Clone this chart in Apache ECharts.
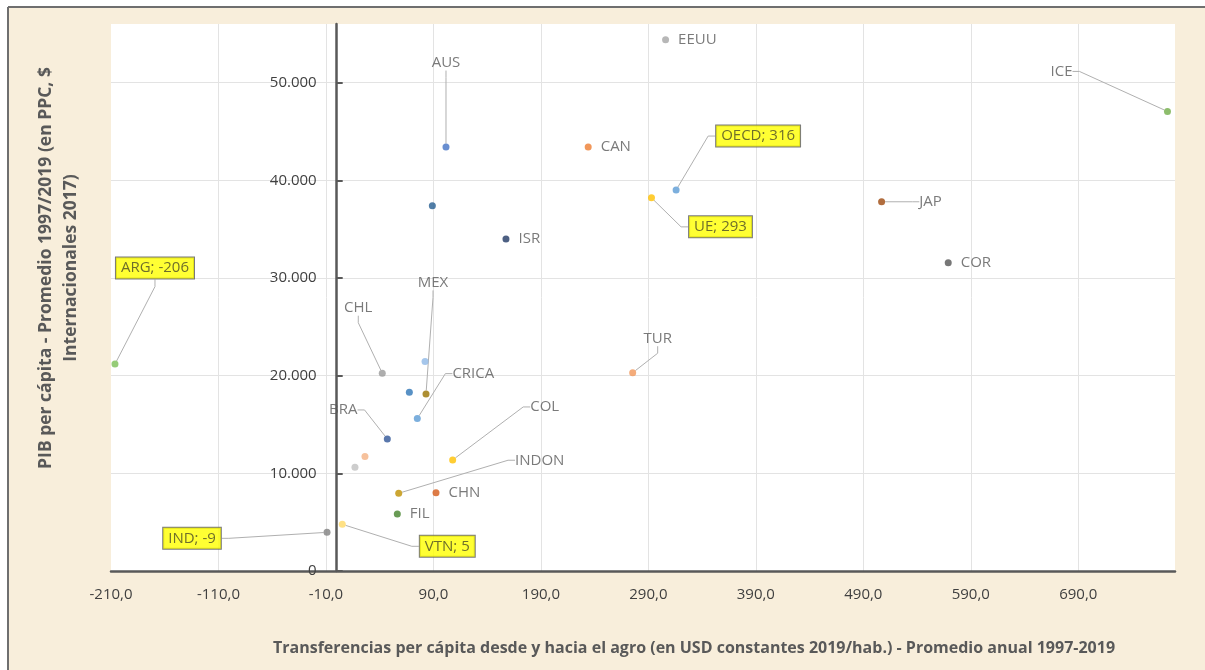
<!DOCTYPE html>
<html>
<head>
<meta charset="utf-8">
<script src="https://cdn.jsdelivr.net/npm/echarts@6/dist/echarts.min.js"></script>
<style>
html,body{margin:0;padding:0;background:#ffffff;}
#chart{width:1205px;height:670px;}
</style>
</head>
<body>
<div id="chart"></div>
<script>
// ---- Data ----
const countries = ['EEUU','ICE','CAN','OECD','UE','JAP','COR','AUS','P1','ISR','TUR','ARG','IND','VTN','FIL','CHN','INDON','COL','BRA','P2','P3','P4','CHL','P5','MEX','CRICA'];
// label text shown next to each point ('' = no label)
const pointLabels = ['EEUU','ICE','CAN','OECD','UE','JAP','COR','AUS','','ISR','TUR','ARG','IND','VTN','FIL','CHN','INDON','COL','BRA','','','','CHL','','MEX','CRICA'];
// Transfers per capita (USD 2019/hab.)
const transfers = [306, 773, 234, 315.8, 292.9, 507, 569, 101.7, 89, 157.5, 275.4, -206.3, -9, 5.2, 56.4, 92.4, 57.7, 107.9, 47.1, 26.3, 17, 82.2, 42.4, 67.6, 83.1, 75];
// GDP per capita (PPP, int. $ 2017)
const gdp = [54400, 47050, 43400, 39000, 38200, 37800, 31550, 43400, 37400, 34000, 20300, 21180, 3960, 4780, 5840, 8020, 7960, 11370, 13520, 11710, 10620, 21440, 20250, 18310, 18130, 15600];
// labels shown as "NAME; value" in a yellow box
const boxedLabels = ['OECD','UE','ARG','IND','VTN'];

// axis settings
const xMin = -210, xMax = 780, xStep = 100;
const yMin = 0, yMax = 56000, yStep = 10000;
const xTitle = 'Transferencias per cápita desde y hacia el agro (en USD constantes 2019/hab.) - Promedio anual 1997-2019';
const yTitle = 'PIB per cápita - Promedio 1997/2019 (en PPC, $\nInternacionales 2017)';

// ---- Layout & styles (kept apart from the data) ----
const W = 1205, H = 670;
const gridLeft = 111, gridRight = 30, gridTop = 24, gridBottom = 99;
const gridWidth = W - gridLeft - gridRight;
// the vertical axis crosses the horizontal one at x = 0
const yAxisShift = -((0 - xMin) / (xMax - xMin)) * gridWidth;

const pointColors = {
  EEUU:'#a5a5a5', ICE:'#70ad47', CAN:'#ed7d31', OECD:'#5b9bd5', UE:'#ffc000', JAP:'#9e480e',
  COR:'#555555', AUS:'#4472c4', P1:'#255e91', ISR:'#203864', TUR:'#f1975a', ARG:'#7cbf55',
  IND:'#7f7f7f', VTN:'#ffd966', FIL:'#43822b', CHN:'#d55a18', INDON:'#bf9000', COL:'#ffc000',
  BRA:'#2f5597', P2:'#f4b183', P3:'#c0c0c0', P4:'#8fb8e6', CHL:'#9a9a9a', P5:'#2e75b6',
  MEX:'#997300', CRICA:'#5b9bd5'
};
const rightLabels = ['EEUU','CAN','ISR','COR','CHN','FIL'];
const labelOffsets = {
  ICE:[-106,-40], OECD:[82,-54], UE:[69,29], JAP:[49,0], AUS:[0,-84], TUR:[25,-34],
  ARG:[40,-96], IND:[-135,6], VTN:[105,22], INDON:[141,-33], COL:[92,-53], BRA:[-44,-29],
  CHL:[-24,-65], MEX:[7,-111], CRICA:[56,-45]
};

const FONT = "'Open Sans', 'Noto Sans', sans-serif";
const TXT = '#595959';

const seriesData = countries.map(function (c, i) {
  const item = {
    name: c,
    value: [transfers[i], gdp[i]],
    itemStyle: { color: pointColors[c] }
  };
  const text = pointLabels[i];
  if (!text) {
    item.label = { show: false };
  } else {
    const boxed = boxedLabels.indexOf(c) >= 0;
    const lbl = {
      show: true,
      formatter: boxed ? (text + '; ' + Math.round(transfers[i])) : text,
      position: rightLabels.indexOf(c) >= 0 ? 'right' : 'inside',
      distance: 9,
      color: TXT,
      fontSize: 15,
      fontFamily: FONT
    };
    if (boxed) {
      lbl.backgroundColor = '#ffff00';
      lbl.borderColor = '#595959';
      lbl.borderWidth = 1;
      lbl.padding = [4, 5, 2, 5];
      lbl.color = '#4a4a28';
    }
    item.label = lbl;
    if (labelOffsets[c]) {
      item.labelLine = { show: true, length2: 7, lineStyle: { color: '#b0b0b0', width: 1 } };
    }
  }
  return item;
});

const chart = echarts.init(document.getElementById('chart'), null, { renderer: 'canvas' });
chart.setOption({
  backgroundColor: '#f8eedb',
  animation: false,
  grid: {
    left: gridLeft, right: gridRight, top: gridTop, bottom: gridBottom,
    show: true, backgroundColor: '#ffffff', borderWidth: 0, borderColor: 'transparent'
  },
  xAxis: {
    type: 'value', min: xMin, max: xMax, interval: xStep,
    axisLine: { show: true, onZero: true, lineStyle: { color: '#595959', width: 2.5 } },
    axisTick: { show: false },
    splitLine: { show: true, showMinLine: false, showMaxLine: false, lineStyle: { color: '#e3e3e3', width: 1 } },
    axisLabel: {
      showMaxLabel: false, margin: 16, color: '#404040', fontSize: 15, fontFamily: FONT,
      formatter: function (v) { return v.toFixed(1).replace('.', ','); }
    }
  },
  yAxis: {
    type: 'value', min: yMin, max: yMax, interval: yStep,
    offset: yAxisShift,
    axisLine: { show: true, onZero: false, lineStyle: { color: '#595959', width: 2.5 } },
    axisTick: { show: true, inside: true, length: 6, lineStyle: { color: '#595959', width: 2 } },
    splitLine: { show: true, showMaxLine: false, lineStyle: { color: '#e3e3e3', width: 1 } },
    axisLabel: {
      showMaxLabel: false, margin: 20, color: '#404040', fontSize: 15, fontFamily: FONT,
      formatter: function (v) { return v.toLocaleString('de-DE'); }
    }
  },
  graphic: [
    { type: 'rect', shape: { x: 0, y: 0, width: W, height: 7 }, style: { fill: '#ffffff' }, silent: true },
    { type: 'rect', shape: { x: 0, y: 0, width: 8, height: H }, style: { fill: '#ffffff' }, silent: true },
    { type: 'line', shape: { x1: 8, y1: 7, x2: W, y2: 7 }, style: { stroke: '#6f6f6f', lineWidth: 2 }, silent: true },
    { type: 'line', shape: { x1: 8, y1: 7, x2: 8, y2: H }, style: { stroke: '#6f6f6f', lineWidth: 2 }, silent: true },
    {
      type: 'text', x: 694, y: 648, z: 10, silent: true,
      style: { text: xTitle, fill: TXT, font: 'bold 16px ' + FONT, textAlign: 'center', textVerticalAlign: 'middle' }
    },
    {
      type: 'text', x: 59, y: 268, rotation: Math.PI / 2, z: 10, silent: true,
      style: { text: yTitle, fill: TXT, font: 'bold 17.5px ' + FONT, textAlign: 'center', textVerticalAlign: 'middle', lineHeight: 25 }
    }
  ],
  series: [{
    type: 'scatter',
    symbol: 'circle',
    symbolSize: 7,
    data: seriesData,
    labelLayout: function (p) {
      const off = labelOffsets[countries[p.dataIndex]];
      return off ? { dx: off[0], dy: off[1] } : {};
    },
    emphasis: { disabled: true }
  }]
});
</script>
</body>
</html>
